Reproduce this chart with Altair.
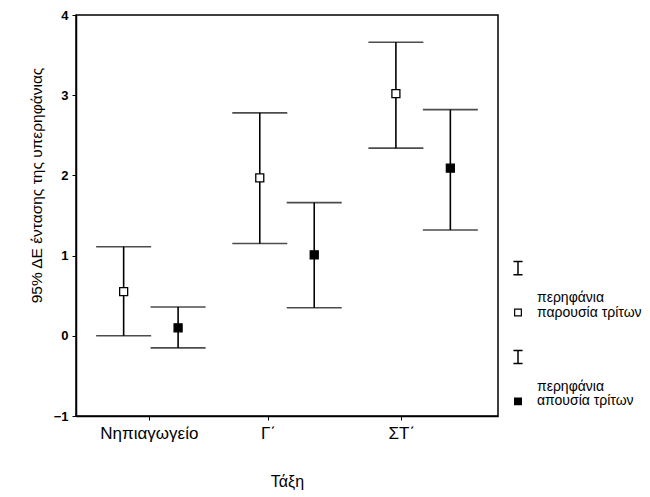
import altair as alt
import pandas as pd

# ---- data ----
categories = ["Νηπιαγωγείο", "Γ΄", "ΣΤ΄"]
group_pos = [1, 2, 3]
tick_pos = [0.985, 1.86, 2.84]          # where the category labels sit
series = ["παρουσία τρίτων", "απουσία τρίτων"]
dodge = [-0.2, 0.2]

mean_present = [0.55, 1.97, 3.02]
low_present = [0.00, 1.15, 2.34]
high_present = [1.11, 2.78, 3.66]

mean_absent = [0.10, 1.01, 2.09]
low_absent = [-0.15, 0.35, 1.32]
high_absent = [0.36, 1.66, 2.82]

y_ticks = [-1, 0, 1, 2, 3, 4]

legend_word = "περηφάνια"

# ---- build table ----
rows = []
for s, off, m, lo, hi in [
    (series[0], dodge[0], mean_present, low_present, high_present),
    (series[1], dodge[1], mean_absent, low_absent, high_absent),
]:
    for c, g, mv, lv, hv in zip(categories, group_pos, m, lo, hi):
        rows.append({"cat": c, "series": s, "x": g + off, "mean": mv, "lo": lv, "hi": hv})
df = pd.DataFrame(rows)

label_expr = (
    f"datum.value < 1.5 ? '{categories[0]}' : "
    f"(datum.value < 2.5 ? '{categories[1]}' : '{categories[2]}')"
)

FONT = "Liberation Sans"

xscale = alt.Scale(domain=[0.45, 3.55], nice=False, zero=False)
yscale = alt.Scale(domain=[-1, 4], nice=False, zero=False)

xaxis = alt.Axis(
    values=tick_pos, labelExpr=label_expr, title="Τάξη", grid=False,
    labelFontSize=17, labelFont=FONT, labelColor="black", labelPadding=5,
    tickSize=4, tickColor="black", domainColor="black", domainWidth=1.5,
    titleFontSize=16, titleFont=FONT, titleFontWeight="normal", titleColor="black",
    titlePadding=32, labelFlush=False,
)
yaxis = alt.Axis(
    values=y_ticks, format="d", title="95% ΔΕ έντασης της υπερηφάνιας", grid=False,
    labelFontSize=13, labelFontWeight="bold", labelFont=FONT, labelColor="black",
    labelPadding=4, tickSize=4, tickColor="black", domainColor="black", domainWidth=1.5,
    titleFontSize=15.5, titleFont=FONT, titleFontWeight="normal", titleColor="black",
    titleX=-32, titleY=170,
)

base = alt.Chart(df).encode(x=alt.X("x:Q", scale=xscale, axis=xaxis))

whisker = base.mark_rule(color="black", strokeWidth=1.6).encode(
    y=alt.Y("lo:Q", scale=yscale, axis=yaxis), y2="hi:Q"
)
cap_lo = base.mark_tick(color="black", orient="horizontal", size=55, thickness=1.6).encode(
    y=alt.Y("lo:Q", scale=yscale)
)
cap_hi = base.mark_tick(color="black", orient="horizontal", size=55, thickness=1.6).encode(
    y=alt.Y("hi:Q", scale=yscale)
)
points = base.mark_point(
    shape="square", filled=True, stroke="black", strokeWidth=1.3, opacity=1, size=64
).encode(
    y=alt.Y("mean:Q", scale=yscale),
    fill=alt.Fill("series:N", scale=alt.Scale(domain=series, range=["white", "black"]), legend=None),
)

main = alt.layer(whisker, cap_lo, cap_hi, points).properties(
    width=422, height=401,
    view=alt.ViewBackground(stroke="black", strokeWidth=1.5),
)

# ---- custom SPSS-like legend panel ----
leg_sym = pd.DataFrame({"row": [0, 6]})
leg_sq = pd.DataFrame({"row": [3, 9], "series": series})
leg_txt = pd.DataFrame({
    "row": [2, 3, 8, 9],
    "label": [legend_word, series[0], legend_word, series[1]],
})

ly_scale = alt.Scale(domain=[-17.1, 9.99], reverse=True, nice=False, zero=False)

ibar = alt.Chart(leg_sym).mark_point(
    shape="M-0.7,-1H0.7M0,-1V1M-0.7,1H0.7", size=170, stroke="black",
    strokeWidth=1.5, filled=False, opacity=1,
).encode(x=alt.value(0), y=alt.Y("row:Q", scale=ly_scale, axis=None))

sq = alt.Chart(leg_sq).mark_point(
    shape="square", filled=True, stroke="black", strokeWidth=1.2, opacity=1, size=45
).encode(
    x=alt.value(0),
    y=alt.Y("row:Q", scale=ly_scale, axis=None),
    fill=alt.Fill("series:N", scale=alt.Scale(domain=series, range=["white", "black"]), legend=None),
)

txt = alt.Chart(leg_txt).mark_text(
    align="left", baseline="middle", dx=19, fontSize=14, font=FONT, color="black"
).encode(
    x=alt.value(0),
    y=alt.Y("row:Q", scale=ly_scale, axis=None),
    text="label:N",
)

legend_panel = alt.layer(ibar, sq, txt).properties(
    width=90, height=401,
    view=alt.ViewBackground(stroke="transparent", strokeWidth=0),
)

chart = alt.hconcat(main, legend_panel, spacing=20, bounds="flush").resolve_scale(
    fill="independent"
).properties(
    padding={"top": 0, "left": 20, "right": 0, "bottom": 0}
).configure(background="white")

chart.save("out.html", embed_options={"renderer": "svg", "actions": False})
